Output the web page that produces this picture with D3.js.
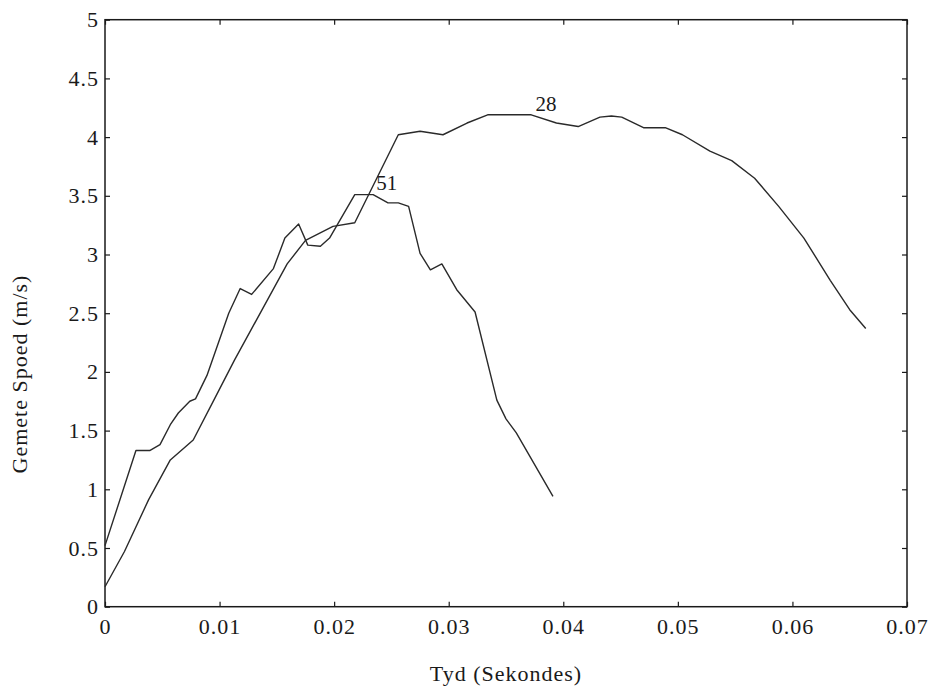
<!DOCTYPE html>
<html>
<head>
<meta charset="utf-8">
<script src="https://cdn.jsdelivr.net/npm/d3@7"></script>
<style>
  html, body { margin: 0; padding: 0; background: #ffffff; }
  svg text { font-family: "Liberation Serif", "Times New Roman", serif; fill: #1a1a1a; }
</style>
</head>
<body>
<svg id="chart" width="932" height="690"></svg>
<script>
// ---- data ----
const xTicks = [0, 0.01, 0.02, 0.03, 0.04, 0.05, 0.06, 0.07];
const xTickLabels = ["0", "0.01", "0.02", "0.03", "0.04", "0.05", "0.06", "0.07"];
const yTicks = [0, 0.5, 1, 1.5, 2, 2.5, 3, 3.5, 4, 4.5, 5];
const yTickLabels = ["0", "0.5", "1", "1.5", "2", "2.5", "3", "3.5", "4", "4.5", "5"];

const seriesNames = ["51", "28"];

const time51 = [0, 0.0027, 0.0039, 0.0048, 0.0057, 0.0064, 0.0074, 0.0079, 0.0089, 0.0108,
  0.0118, 0.0128, 0.0147, 0.0157, 0.0169, 0.0177, 0.0188, 0.0196, 0.0218, 0.0234,
  0.0247, 0.0256, 0.0265, 0.0275, 0.0284, 0.0294, 0.0307, 0.0323, 0.0342, 0.0350,
  0.0359, 0.0391];
const speed51 = [0.52, 1.33, 1.33, 1.38, 1.55, 1.65, 1.75, 1.77, 1.97, 2.50,
  2.71, 2.66, 2.88, 3.14, 3.26, 3.08, 3.07, 3.14, 3.51, 3.51,
  3.44, 3.44, 3.41, 3.01, 2.87, 2.92, 2.70, 2.51, 1.76, 1.60,
  1.48, 0.94];

const time28 = [0, 0.0017, 0.0038, 0.0057, 0.0077, 0.0095, 0.0113, 0.0159, 0.0175, 0.0199,
  0.0218, 0.0256, 0.0275, 0.0295, 0.0316, 0.0334, 0.0372, 0.0394, 0.0413, 0.0432,
  0.0442, 0.0451, 0.0470, 0.0489, 0.0504, 0.0528, 0.0547, 0.0567, 0.0588, 0.0610,
  0.0633, 0.0650, 0.0664];
const speed28 = [0.17, 0.47, 0.91, 1.25, 1.42, 1.76, 2.10, 2.92, 3.12, 3.24,
  3.27, 4.02, 4.05, 4.02, 4.12, 4.19, 4.19, 4.12, 4.09, 4.17,
  4.18, 4.17, 4.08, 4.08, 4.02, 3.88, 3.80, 3.65, 3.41, 3.14,
  2.78, 2.53, 2.37];

// label anchor points (data coordinates)
const labelPos = [[0.0246, 3.55], [0.0385, 4.22]];

// ---- layout ----
const svg = d3.select("#chart");
const plotLeft = 105, plotRight = 907, plotTop = 19.7, plotBottom = 606.7;

const x = d3.scaleLinear().domain([0, 0.07]).range([plotLeft, plotRight]);
const y = d3.scaleLinear().domain([0, 5]).range([plotBottom, plotTop]);

const fontSize = 22;
const ink = "#1a1a1a";

// axes (ticks point inward)
function styleAxis(g) {
  g.select(".domain").remove();
  g.selectAll(".tick line").attr("stroke", ink).attr("stroke-width", 1.2);
  g.selectAll(".tick text")
    .style("font-size", fontSize + "px")
    .style("letter-spacing", "1px")
    .attr("fill", ink);
}

svg.append("g")
  .attr("transform", `translate(0,${plotBottom})`)
  .call(d3.axisBottom(x).tickValues(xTicks)
    .tickFormat((d, i) => xTickLabels[i]).tickSizeInner(-5).tickSizeOuter(0).tickPadding(12))
  .call(styleAxis);

svg.append("g")
  .attr("transform", `translate(0,${plotTop})`)
  .call(d3.axisTop(x).tickValues(xTicks).tickFormat("").tickSizeInner(-5).tickSizeOuter(0))
  .call(styleAxis);

svg.append("g")
  .attr("transform", `translate(${plotLeft},0)`)
  .call(d3.axisLeft(y).tickValues(yTicks)
    .tickFormat((d, i) => yTickLabels[i]).tickSizeInner(-5).tickSizeOuter(0).tickPadding(6))
  .call(styleAxis);

svg.append("g")
  .attr("transform", `translate(${plotRight},0)`)
  .call(d3.axisRight(y).tickValues(yTicks).tickFormat("").tickSizeInner(-5).tickSizeOuter(0))
  .call(styleAxis);

// frame
svg.append("rect")
  .attr("x", plotLeft).attr("y", plotTop)
  .attr("width", plotRight - plotLeft).attr("height", plotBottom - plotTop)
  .attr("fill", "none").attr("stroke", ink).attr("stroke-width", 1.5);

// lines
const line = d3.line().x(d => x(d[0])).y(d => y(d[1]));
const data51 = time51.map((t, i) => [t, speed51[i]]);
const data28 = time28.map((t, i) => [t, speed28[i]]);

[data51, data28].forEach(d => {
  svg.append("path")
    .datum(d)
    .attr("d", line)
    .attr("fill", "none")
    .attr("stroke", "#2a2a2a")
    .attr("stroke-width", 1.4)
    .attr("stroke-linejoin", "round");
});

// curve labels
seriesNames.forEach((name, i) => {
  svg.append("text")
    .attr("x", x(labelPos[i][0]))
    .attr("y", y(labelPos[i][1]))
    .attr("text-anchor", "middle")
    .style("font-size", "21px")
    .text(name);
});

// axis titles
svg.append("text")
  .attr("x", (plotLeft + plotRight) / 2)
  .attr("y", 681)
  .attr("text-anchor", "middle")
  .style("font-size", fontSize + "px")
  .style("letter-spacing", "1px")
  .text("Tyd (Sekondes)");

svg.append("text")
  .attr("transform", "translate(27,374) rotate(-90)")
  .attr("text-anchor", "middle")
  .style("font-size", fontSize + "px")
  .style("letter-spacing", "1px")
  .text("Gemete Spoed (m/s)");
</script>
</body>
</html>
